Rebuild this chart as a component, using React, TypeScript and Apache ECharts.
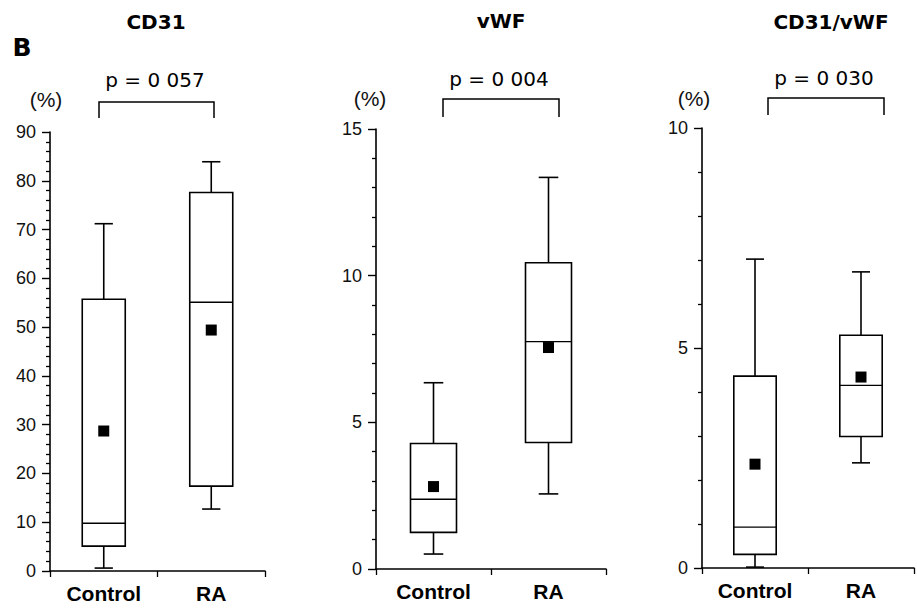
import React, { useEffect, useRef } from "react";
import * as echarts from "echarts";

const categories = ["Control", "RA"];
const titles = ["CD31", "vWF", "CD31/vWF"];
const pTexts = ["p = 0 057", "p = 0 004", "p = 0 030"];

// [min, Q1, median, Q3, max]
const cd31Box = [
  [0.6, 5.1, 9.8, 55.7, 71.2],
  [12.7, 17.4, 55.1, 77.6, 83.9],
];
const cd31Mean = [28.7, 49.4];

const vwfBox = [
  [0.51, 1.25, 2.38, 4.28, 6.35],
  [2.56, 4.31, 7.75, 10.44, 13.35],
];
const vwfMean = [2.81, 7.55];

const ratioBox = [
  [0.02, 0.31, 0.93, 4.36, 7.02],
  [2.39, 2.99, 4.15, 5.29, 6.73],
];
const ratioMean = [2.36, 4.34];

const yMax = [90, 15, 10];
const yInterval = [10, 5, 5];
const yMinorSplit = [5, 5, 5];

const boxes = [cd31Box, vwfBox, ratioBox];
const means = [cd31Mean, vwfMean, ratioMean];

const grids = [
  { left: 50, top: 132, width: 215, height: 439 },
  { left: 376, top: 129, width: 230, height: 440 },
  { left: 702, top: 128, width: 212, height: 440 },
];

const titlePos = [
  [156, 22],
  [501, 21],
  [831, 22],
];
const pPos = [
  [155, 80],
  [499, 79],
  [824, 78],
];
const pctPos = [
  [46, 99],
  [370, 98],
  [694, 98],
];
const brackets = [
  [99, 214, 102, 118],
  [443, 559, 99, 117],
  [768, 884, 98, 115],
];

function renderBox(params: any, api: any) {
  const x = api.value(0);
  const pMin = api.coord([x, api.value(1)]);
  const yQ1 = api.coord([x, api.value(2)])[1];
  const yMed = api.coord([x, api.value(3)])[1];
  const yQ3 = api.coord([x, api.value(4)])[1];
  const yMaxV = api.coord([x, api.value(5)])[1];
  const cx = pMin[0];
  const yMinV = pMin[1];
  const band = api.size([1, 0])[0];
  const bw = band * 0.4;
  const cw = band * 0.17;
  const ls = { stroke: "#000", lineWidth: 1.6 };
  return {
    type: "group",
    children: [
      { type: "line", shape: { x1: cx, y1: yQ3, x2: cx, y2: yMaxV }, style: ls },
      { type: "line", shape: { x1: cx - cw / 2, y1: yMaxV, x2: cx + cw / 2, y2: yMaxV }, style: ls },
      { type: "line", shape: { x1: cx, y1: yQ1, x2: cx, y2: yMinV }, style: ls },
      { type: "line", shape: { x1: cx - cw / 2, y1: yMinV, x2: cx + cw / 2, y2: yMinV }, style: ls },
      {
        type: "rect",
        shape: { x: cx - bw / 2, y: yQ3, width: bw, height: yQ1 - yQ3 },
        style: { fill: "#fff", stroke: "#000", lineWidth: 1.6 },
      },
      { type: "line", shape: { x1: cx - bw / 2, y1: yMed, x2: cx + bw / 2, y2: yMed }, style: { stroke: "#000", lineWidth: 1.4 } },
    ],
  };
}

export default function App() {
  const ref = useRef<HTMLDivElement>(null);
  useEffect(() => {
    if (!ref.current) return;
    const chart = echarts.init(ref.current, null, { renderer: "svg" });
    const xAxis = grids.map((_, i) => ({
      type: "category",
      gridIndex: i,
      data: categories,
      axisLine: { show: true, lineStyle: { color: "#000", width: 1.6 } },
      axisTick: { show: true, length: 6, lineStyle: { color: "#000", width: 1.3 } },
      axisLabel: {
        fontFamily: "Liberation Sans, Arial, sans-serif",
        fontWeight: "bold",
        fontSize: 21,
        color: "#000",
        margin: 12,
      },
      splitLine: { show: false },
    }));
    const yAxis = grids.map((_, i) => ({
      type: "value",
      gridIndex: i,
      position: "left",
      min: 0,
      max: yMax[i],
      interval: yInterval[i],
      axisLine: { show: true, lineStyle: { color: "#000", width: 1.6 } },
      axisTick: { show: true, length: 8, lineStyle: { color: "#000", width: 1.4 } },
      minorTick: { show: true, splitNumber: yMinorSplit[i], length: 4, lineStyle: { color: "#000", width: 1.3 } },
      splitLine: { show: false },
      minorSplitLine: { show: false },
      axisLabel: {
        fontFamily: "Liberation Sans, Arial, sans-serif",
        fontSize: 18,
        color: "#111",
        margin: 14,
      },
    }));
    const series: any[] = [];
    boxes.forEach((b, i) => {
      series.push({
        type: "custom",
        xAxisIndex: i,
        yAxisIndex: i,
        renderItem: renderBox,
        data: b.map((v, k) => [k, ...v]),
        encode: { x: 0, y: [1, 2, 3, 4, 5] },
        z: 2,
      });
      series.push({
        type: "scatter",
        xAxisIndex: i,
        yAxisIndex: i,
        symbol: "rect",
        symbolSize: 11,
        itemStyle: { color: "#000", opacity: 1 },
        data: means[i].map((v, k) => [k, v]),
        z: 5,
      });
    });
    const graphic: any[] = [
      {
        type: "text",
        x: 22,
        y: 47,
        style: {
          text: "B",
          font: "bold 25px 'DejaVu Sans', Arial, sans-serif",
          fill: "#000",
          textAlign: "center",
          textVerticalAlign: "middle",
        },
      },
    ];
    titles.forEach((t, i) => {
      graphic.push({
        type: "text",
        x: titlePos[i][0],
        y: titlePos[i][1],
        style: {
          text: t,
          font: "bold 20px 'DejaVu Sans', Arial, sans-serif",
          fill: "#000",
          textAlign: "center",
          textVerticalAlign: "middle",
        },
      });
      graphic.push({
        type: "text",
        x: pPos[i][0],
        y: pPos[i][1],
        style: {
          text: pTexts[i],
          font: "20px 'DejaVu Sans', Arial, sans-serif",
          fill: "#000",
          textAlign: "center",
          textVerticalAlign: "middle",
        },
      });
      graphic.push({
        type: "text",
        x: pctPos[i][0],
        y: pctPos[i][1],
        style: {
          text: "(%)",
          font: "21px 'Liberation Sans', Arial, sans-serif",
          fill: "#111",
          textAlign: "center",
          textVerticalAlign: "middle",
        },
      });
      const [x1, x2, yt, yb] = brackets[i];
      graphic.push({
        type: "polyline",
        shape: { points: [[x1, yb], [x1, yt], [x2, yt], [x2, yb]] },
        style: { stroke: "#000", lineWidth: 1.5, fill: null },
      });
    });
    chart.setOption({
      animation: false,
      backgroundColor: "#fff",
      grid: grids.map((g) => ({ ...g, containLabel: false })),
      xAxis,
      yAxis,
      series,
      graphic,
    });
    return () => chart.dispose();
  }, []);
  return (
    <div
      ref={ref}
      style={{ position: "fixed", left: 0, top: 0, width: 917, height: 614, background: "#fff" }}
    />
  );
}
